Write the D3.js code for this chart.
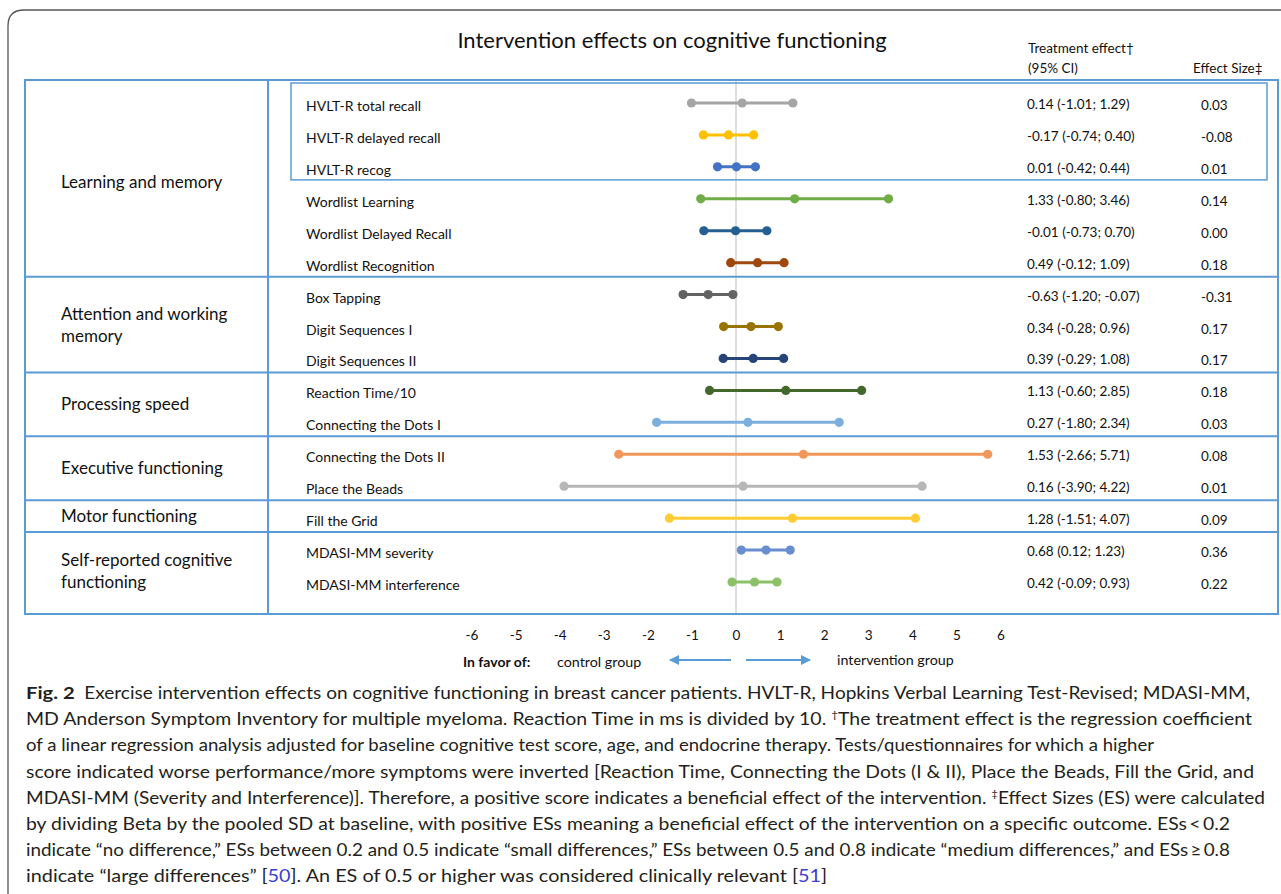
<!DOCTYPE html>
<html><head><meta charset="utf-8">
<script src="https://cdn.jsdelivr.net/npm/d3@7"></script>
<style>
body{margin:0;background:#fff;}
svg{display:block;}
text{font-family:Lato,"Open Sans",sans-serif;}
</style></head>
<body>
<script>
// ---- data ----
const tests = ["HVLT-R total recall","HVLT-R delayed recall","HVLT-R recog","Wordlist Learning","Wordlist Delayed Recall","Wordlist Recognition","Box Tapping","Digit Sequences I","Digit Sequences II","Reaction Time/10","Connecting the Dots I","Connecting the Dots II","Place the Beads","Fill the Grid","MDASI-MM severity","MDASI-MM interference"];
const estimate = [0.14,-0.17,0.01,1.33,-0.01,0.49,-0.63,0.34,0.39,1.13,0.27,1.53,0.16,1.28,0.68,0.42];
const ciLow = [-1.01,-0.74,-0.42,-0.80,-0.73,-0.12,-1.20,-0.28,-0.29,-0.60,-1.80,-2.66,-3.90,-1.51,0.12,-0.09];
const ciHigh = [1.29,0.40,0.44,3.46,0.70,1.09,-0.07,0.96,1.08,2.85,2.34,5.71,4.22,4.07,1.23,0.93];
const effectSize = ["0.03","-0.08","0.01","0.14","0.00","0.18","-0.31","0.17","0.17","0.18","0.03","0.08","0.01","0.09","0.36","0.22"];
const colors = ["#a5a5a5","#ffc000","#4472c4","#70ad47","#255e91","#9e480e","#636363","#997300","#264478","#43682b","#7cafdd","#f1975a","#b7b7b7","#ffcd33","#698ed0","#8cc168"];
const groups = [
  {name:["Learning and memory"], first:0, last:5},
  {name:["Attention and working","memory"], first:6, last:8},
  {name:["Processing speed"], first:9, last:10},
  {name:["Executive functioning"], first:11, last:12},
  {name:["Motor functioning"], first:13, last:13},
  {name:["Self-reported cognitive","functioning"], first:14, last:15}
];
const hvltBox = {first:0,last:2};
const xTicks = [-6,-5,-4,-3,-2,-1,0,1,2,3,4,5,6];
const title = "Intervention effects on cognitive functioning";

const W=1281,H=894;
const svg=d3.select("body").append("svg").attr("width",W).attr("height",H);
const f2=v=>d3.format(".2f")(v).replace("\u2212","-");

// outer rounded frame
svg.append("path").attr("d","M8,"+(H+5)+" L8,26 Q8,10 24,10 L"+(W+5)+",10")
  .attr("fill","none").attr("stroke","#555").attr("stroke-width",1.3);

const x=d3.scaleLinear().domain([-6,6]).range([471.5,1000.5]);
const y=d3.scalePoint().domain(tests).range([103,582]);
const tableL=25,tableR=1278,divX=268,tableT=80,tableB=614;
const blue="#5b9bd5";

// title / headers
svg.append("text").attr("x",672).attr("y",48).attr("text-anchor","middle").attr("font-size",22).attr("fill","#111").text(title);
svg.append("text").attr("x",1028).attr("y",53).attr("font-size",13.5).attr("fill","#111").text("Treatment effect\u2020");
svg.append("text").attr("x",1028).attr("y",73).attr("font-size",13.5).attr("fill","#111").text("(95% CI)");
svg.append("text").attr("x",1193).attr("y",73).attr("font-size",13.5).attr("fill","#111").text("Effect Size\u2021");

// zero line
svg.append("line").attr("x1",x(0)).attr("x2",x(0)).attr("y1",tableT).attr("y2",tableB).attr("stroke","#c8c8c8").attr("stroke-width",1.2);

// table frame
const tb=svg.append("g").attr("fill","none").attr("stroke",blue).attr("stroke-width",2);
tb.append("rect").attr("x",tableL).attr("y",tableT).attr("width",tableR-tableL).attr("height",tableB-tableT);
tb.append("line").attr("x1",divX).attr("x2",divX).attr("y1",tableT).attr("y2",tableB);
groups.slice(0,-1).forEach(g=>{
  const yy=(y(tests[g.last])+y(tests[g.last+1]))/2-2;
  tb.append("line").attr("x1",tableL).attr("x2",tableR).attr("y1",yy).attr("y2",yy);
});
// HVLT box
tb.append("rect").attr("x",291).attr("y",y(tests[hvltBox.first])-20)
  .attr("width",1267-291).attr("height",y(tests[hvltBox.last])-y(tests[hvltBox.first])+33).attr("stroke-width",1.5);

// group labels
groups.forEach(g=>{
  const top = g.first===0?tableT+8:(y(tests[g.first-1])+y(tests[g.first]))/2-2;
  const bot = g.last===tests.length-1?tableB-4:(y(tests[g.last])+y(tests[g.last+1]))/2-2;
  const mid=(top+bot)/2;
  const n=g.name.length;
  g.name.forEach((s,i)=>{
    svg.append("text").attr("x",61).attr("y",mid+(i-(n-1)/2)*22+6).attr("font-size",17).attr("fill","#111").text(s);
  });
});

// rows
const rows=svg.append("g");
tests.forEach((t,i)=>{
  const yy=y(t);
  rows.append("text").attr("x",306).attr("y",yy+8).attr("font-size",14).attr("fill","#111").text(t);
  rows.append("line").attr("x1",x(ciLow[i])).attr("x2",x(ciHigh[i])).attr("y1",yy).attr("y2",yy).attr("stroke",colors[i]).attr("stroke-width",3);
  [ciLow[i],estimate[i],ciHigh[i]].forEach(v=>{
    rows.append("circle").attr("cx",x(v)).attr("cy",yy).attr("r",4.6).attr("fill",colors[i]);
  });
  rows.append("text").attr("x",1027).attr("y",yy+6).attr("font-size",13.5).attr("fill","#111")
    .text(f2(estimate[i])+" ("+f2(ciLow[i])+"; "+f2(ciHigh[i])+")");
  rows.append("text").attr("x",1201).attr("y",yy+7).attr("font-size",13.5).attr("fill","#111").text(effectSize[i]);
});

// x axis (labels only)
const ax=svg.append("g").attr("transform","translate(0,630)").call(d3.axisBottom(x).tickValues(xTicks).tickFormat(d=>String(d)).tickSize(0).tickPadding(0));
ax.select(".domain").remove();
ax.selectAll("text").attr("font-size",13.5).attr("fill","#111").attr("font-family","Lato,sans-serif");

// favor legend
svg.append("text").attr("x",463).attr("y",667).attr("font-size",14).attr("font-weight","bold").attr("fill","#111").text("In favor of:");
svg.append("text").attr("x",557).attr("y",667).attr("font-size",14.3).attr("fill","#111").text("control group");
svg.append("text").attr("x",837).attr("y",665).attr("font-size",14.3).attr("fill","#111").text("intervention group");
const defs=svg.append("defs");
defs.append("marker").attr("id","ah").attr("viewBox","0 0 10 10").attr("refX",9).attr("refY",5)
  .attr("markerWidth",5).attr("markerHeight",5).attr("orient","auto-start-reverse")
  .append("path").attr("d","M0,0 L10,5 L0,10 z").attr("fill",blue);
svg.append("line").attr("x1",731).attr("x2",670).attr("y1",660).attr("y2",660).attr("stroke",blue).attr("stroke-width",2).attr("marker-end","url(#ah)");
svg.append("line").attr("x1",746).attr("x2",810).attr("y1",660).attr("y2",660).attr("stroke",blue).attr("stroke-width",2).attr("marker-end","url(#ah)");

// caption
const link="#3d3dd0";
const capLines=[
  {w:1224,parts:[{t:"Fig. 2",b:1},{t:"\u2002Exercise intervention effects on cognitive functioning in breast cancer patients. HVLT-R, Hopkins Verbal Learning Test-Revised; MDASI-MM,"}]},
  {w:1226,parts:[{t:"MD Anderson Symptom Inventory for multiple myeloma. Reaction Time in ms is divided by 10. "},{t:"\u2020",sup:1},{t:"The treatment effect is the regression coefficient"}]},
  {w:1128,parts:[{t:"of a linear regression analysis adjusted for baseline cognitive test score, age, and endocrine therapy. Tests/questionnaires for which a higher"}]},
  {w:1228,parts:[{t:"score indicated worse performance/more symptoms were inverted [Reaction Time, Connecting the Dots (I & II), Place the Beads, Fill the Grid, and"}]},
  {w:1239,parts:[{t:"MDASI-MM (Severity and Interference)]. Therefore, a positive score indicates a beneficial effect of the intervention. "},{t:"\u2021",sup:1},{t:"Effect Sizes (ES) were calculated"}]},
  {w:1204,parts:[{t:"by dividing Beta by the pooled SD at baseline, with positive ESs meaning a beneficial effect of the intervention on a specific outcome. ESs\u2009<\u20090.2"}]},
  {w:1204,parts:[{t:"indicate \u201cno difference,\u201d ESs between 0.2 and 0.5 indicate \u201csmall differences,\u201d ESs between 0.5 and 0.8 indicate \u201cmedium differences,\u201d and ESs\u2009\u2265\u20090.8"}]},
  {w:801,parts:[{t:"indicate \u201clarge differences\u201d ["},{t:"50",c:link},{t:"]. An ES of 0.5 or higher was considered clinically relevant ["},{t:"51",c:link},{t:"]"}]}
];
capLines.forEach((L,i)=>{
  const tx=svg.append("text").attr("x",26).attr("y",699+i*26.2).attr("font-size",16.5).attr("fill","#231f20")
    .attr("textLength",L.w).attr("lengthAdjust","spacingAndGlyphs");
  L.parts.forEach((p,j)=>{
    const ts=tx.append("tspan").text(p.t);
    if(p.b) ts.attr("font-weight","bold").attr("font-size",17.5);
    if(p.c) ts.attr("fill",p.c);
    if(p.sup) ts.attr("font-size",10).attr("dy",-7);
    if(j>0 && L.parts[j-1].sup) ts.attr("dy",7);
  });
});
</script>
</body></html>
